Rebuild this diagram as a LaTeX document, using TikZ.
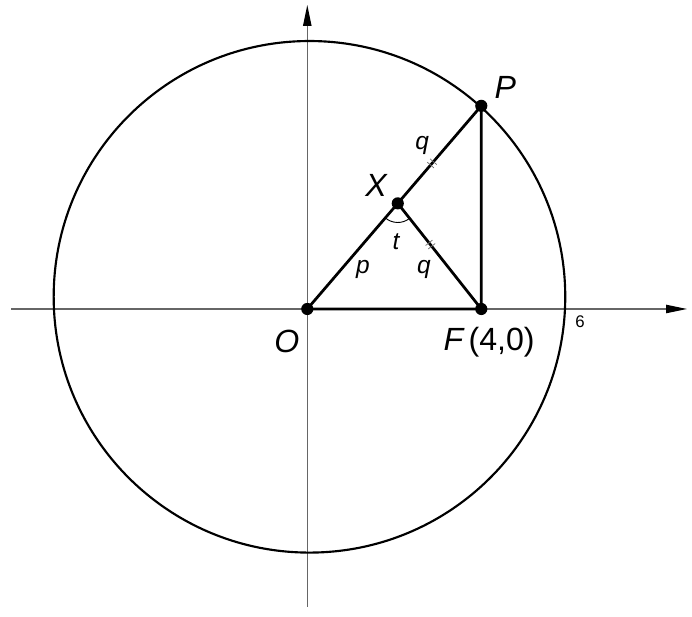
\documentclass[tikz,border=0pt]{standalone}
\usepackage{fontspec}
\setmainfont{Liberation Sans}
\usetikzlibrary{arrows.meta,calc}
\tikzset{
  lbl/.style={font=\fontsize{21}{24}\selectfont\itshape},
  sml/.style={font=\fontsize{16}{18}\selectfont\itshape},
  axis/.style={line width=0.8pt,black!60,-{Triangle[length=0.48cm,width=0.19cm,color=black]}},
  tick/.style={line width=0.5pt,black!55}
}
\begin{document}
\begin{tikzpicture}[x=1cm,y=1cm]
\useasboundingbox (-7.064,-7.08) rectangle (8.844,7.103);
\draw[axis] (-6.8,0) -- (8.73,0);
\draw[axis] (0,-6.85) -- (0,6.99);
\coordinate (O) at (0,0);
\coordinate (F) at (4,0);
\coordinate (P) at (4,4.67);
\coordinate (X) at ($(O)!0.52!(P)$);
\draw[line width=1.4pt] (0.05,0.28) circle (5.88);
\draw[line width=1.8pt] (O) -- (P) -- (F) -- (O);
\draw[line width=1.8pt] (X) -- (F);
\draw[line width=0.6pt] ($(X)+(229.4:0.44)$) arc (229.4:308.3:0.44);
\foreach \s in {-0.05,0.05} {
\draw[tick] ($(X)!0.41!(P)$) ++(49.4:\s) ++(139.4:0.1) -- ++(319.4:0.2);
\draw[tick] ($(X)!0.39!(F)$) ++(-51.7:\s) ++(38.3:0.1) -- ++(218.3:0.2);
}
\foreach \p in {O,F,P,X} {
\fill (\p) circle (0.14);
}
\node[lbl] (lO) at (-0.47,-0.74) {O};
\node[lbl] (lF) at (4.18,-0.76) {F\,\upshape(4,0)};
\node[lbl] (lP) at (4.55,5.10) {P};
\node[lbl] (lX) at (1.58,2.85) {X};
\node[sml] (lq1) at (2.64,3.75) {q};
\node[sml] (lt) at (2.04,1.54) {t};
\node[sml] (lp) at (1.28,0.90) {p};
\node[sml] (lq2) at (2.68,0.90) {q};
\node[font=\fontsize{11}{13}\selectfont] (l6) at (6.27,-0.30) {6};
\end{tikzpicture}
\end{document}
